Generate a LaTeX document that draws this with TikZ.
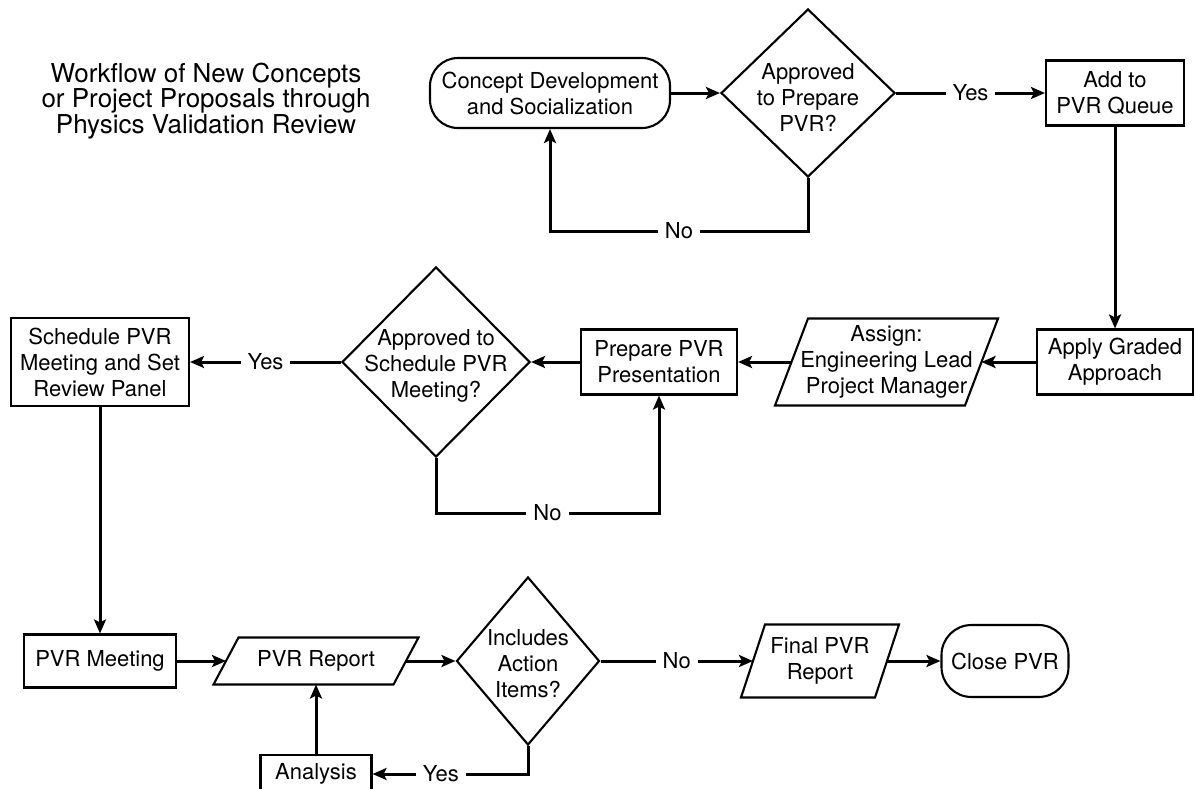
\documentclass[tikz,border=0pt]{standalone}
\usepackage{fontspec}
\setmainfont{TeX Gyre Heros}
\usetikzlibrary{shapes.geometric,arrows.meta}
\begin{document}
\begin{tikzpicture}[x=1pt,y=-1pt,
  every node/.style={font=\fontsize{22}{26}\selectfont, align=center},
  proc/.style={draw, line width=2.1pt, inner sep=0pt},
  term/.style={proc, rounded corners=#1},
  decision/.style={draw, shape=diamond, line width=2.1pt, inner sep=0pt},
  iobox/.style={inner sep=0pt, outer sep=0pt},
  ioline/.style={line width=2.1pt, line join=miter},
  conn/.style={line width=3pt, -{Stealth[length=14pt,width=12pt,inset=3pt]}},
  lbl/.style={fill=white, inner xsep=7pt, inner ysep=2pt}
]
\clip (0,0) rectangle (1196,788);
\fill[white] (0,0) rectangle (1196,788);

% title
\node[font=\fontsize{26}{25.5}\selectfont] (title) at (206,101)
  {Workflow of New Concepts\\or Project Proposals through\\Physics Validation Review};

% row 1
\node[term=28pt, minimum width=240pt, minimum height=70pt] (concept) at (550,93)
  {Concept Development\\and Socialization};
\node[decision, minimum width=174pt, minimum height=168pt] (d1) at (808,93) {};
\node (d1t) at (808,97) {Approved\\to Prepare\\PVR?};
\node[proc, minimum width=138pt, minimum height=65pt] (add) at (1115,93)
  {Add to\\PVR Queue};

% row 2
\node[proc, minimum width=156pt, minimum height=65pt] (apply) at (1115,362)
  {Apply Graded\\Approach};
\node[iobox, minimum width=190pt, minimum height=87pt] (assign) at (886.5,362)
  {Assign:\\Engineering Lead\\Project Manager};
\draw[ioline] ([xshift=-16.5pt]assign.south west) -- ([xshift=16.5pt]assign.north west)
  -- ([xshift=16.5pt]assign.north east) -- ([xshift=-16.5pt]assign.south east) -- cycle;
\node[proc, minimum width=156pt, minimum height=65pt] (prep) at (659,362)
  {Prepare PVR\\Presentation};
\node[decision, minimum width=188pt, minimum height=190pt] (d2) at (436,362) {};
\node (d2t) at (436,366) {Approved to\\Schedule PVR\\Meeting?};
\node[proc, minimum width=178pt, minimum height=88pt] (sched) at (100,362)
  {Schedule PVR\\Meeting and Set\\Review Panel};

% row 3
\node[proc, minimum width=152pt, minimum height=53pt] (meet) at (100,661) {PVR Meeting};
\node[iobox, minimum width=180pt, minimum height=47pt] (rep) at (316,661) {PVR Report};
\draw[ioline] ([xshift=-12.5pt]rep.south west) -- ([xshift=12.5pt]rep.north west)
  -- ([xshift=12.5pt]rep.north east) -- ([xshift=-12.5pt]rep.south east) -- cycle;
\node[decision, minimum width=143pt, minimum height=168pt] (d3) at (528,661) {};
\node (d3t) at (528,664) {Includes\\Action\\Items?};
\node[iobox, minimum width=134pt, minimum height=73pt] (final) at (820,661)
  {Final PVR\\Report};
\draw[ioline] ([xshift=-12pt]final.south west) -- ([xshift=12pt]final.north west)
  -- ([xshift=12pt]final.north east) -- ([xshift=-12pt]final.south east) -- cycle;
\node[term=30pt, minimum width=127pt, minimum height=72pt] (close) at (1005,661) {Close PVR};
\node[proc, minimum width=111pt, minimum height=38pt] (ana) at (316,774) {Analysis};

% connectors
\draw[conn] (concept) -- (d1);
\draw[conn] (d1) -- node[lbl]{Yes} (add);
\draw[conn] (d1.south) -- ++(0,53) -| node[lbl, pos=0.25]{No} (concept.south);
\draw[conn] (add) -- (apply);
\draw[conn] (apply) -- (assign);
\draw[conn] (assign) -- (prep);
\draw[conn] (prep) -- (d2);
\draw[conn] (d2) -- node[lbl]{Yes} (sched);
\draw[conn] (d2.south) -- ++(0,55) -| node[lbl, pos=0.25]{No} (prep.south);
\draw[conn] (sched) -- (meet);
\draw[conn] (meet) -- (rep);
\draw[conn] (rep) -- (d3);
\draw[conn] (d3) -- node[lbl]{No} (final);
\draw[conn] (final) -- (close);
\draw[conn] (d3.south) |- node[lbl, pos=0.78]{Yes} (ana);
\draw[conn] (ana) -- (rep);
\end{tikzpicture}
\end{document}
